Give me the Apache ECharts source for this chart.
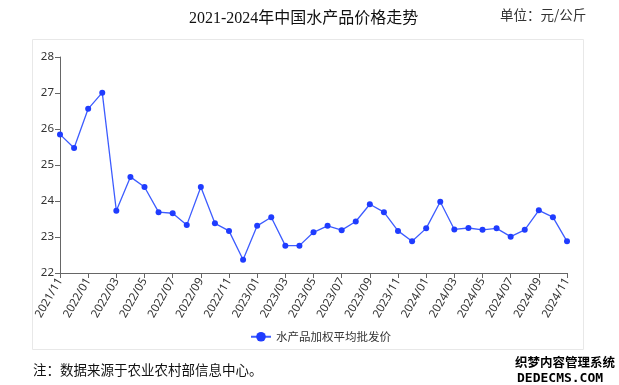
<!DOCTYPE html>
<html>
<head>
<meta charset="utf-8">
<script src="https://cdn.jsdelivr.net/npm/echarts@6/dist/echarts.min.js"></script>
<style>html,body{margin:0;padding:0;background:#fff;}#c{width:619px;height:385px;}</style>
</head>
<body>
<div id="c"></div>
<script>
const categories = ['2021/11','2021/12','2022/01','2022/02','2022/03','2022/04','2022/05','2022/06','2022/07','2022/08','2022/09','2022/10','2022/11','2022/12','2023/01','2023/02','2023/03','2023/04','2023/05','2023/06','2023/07','2023/08','2023/09','2023/10','2023/11','2023/12','2024/01','2024/02','2024/03','2024/04','2024/05','2024/06','2024/07','2024/08','2024/09','2024/10','2024/11'];
const prices = [25.85,25.47,26.56,27.01,23.73,24.67,24.39,23.69,23.66,23.33,24.39,23.38,23.17,22.37,23.31,23.55,22.76,22.76,23.13,23.31,23.19,23.43,23.91,23.69,23.17,22.88,23.24,23.98,23.21,23.25,23.20,23.24,23.01,23.20,23.74,23.55,22.88];
const seriesName = '水产品加权平均批发价';
const titleText = '2021-2024年中国水产品价格走势';
const unitText = '单位：元/公斤';
const noteText = '注：数据来源于农业农村部信息中心。';

const chart = echarts.init(document.getElementById('c'));
chart.setOption({
  animation: false,
  backgroundColor: '#fff',
  graphic: [
    {type:'rect', shape:{x:32.5,y:39.5,width:551,height:310}, style:{fill:'none', stroke:'#e8e8e8', lineWidth:1}, z:-1},
    {type:'text', left:189, top:11, style:{text:titleText, fontSize:16, fontFamily:'Liberation Serif, Noto Sans CJK SC', fill:'#111'}},
    {type:'text', left:500, top:8, style:{text:unitText, fontSize:13.5, fontFamily:'Noto Sans CJK SC', fill:'#333'}},
    {type:'text', left:33, top:363, style:{text:noteText, fontSize:13.5, fontFamily:'Noto Sans CJK SC', fill:'#111'}},
    {type:'text', left:514, top:355, style:{text:'织梦内容管理系统', fontSize:12.5, fontWeight:'bold', fontFamily:'Noto Sans CJK SC', fill:'#000', stroke:'#fff', lineWidth:2}},
    {type:'text', left:516, top:371, style:{text:'DEDECMS.COM', fontSize:13, fontWeight:'bold', fontFamily:'DejaVu Sans Mono', fill:'#000', stroke:'#fff', lineWidth:2}}
  ],
  legend: {
    data: [seriesName],
    left: 245, top: 326,
    itemWidth: 20, itemHeight: 12, itemGap: 4,
    textStyle: {fontSize: 11.5, color: '#333', fontFamily: 'Noto Sans CJK SC'}
  },
  grid: {left: 60, right: 52, top: 57, bottom: 112},
  xAxis: {
    type: 'category',
    data: categories,
    boundaryGap: false,
    axisLine: {lineStyle: {color: '#666'}},
    axisTick: {interval: 1, length: 5, lineStyle:{color:'#666'}},
    axisLabel: {interval: 1, rotate: 60, fontSize: 11.5, color: '#333', fontFamily: 'Noto Sans', margin: 6}
  },
  yAxis: {
    type: 'value',
    min: 22, max: 28, interval: 1,
    axisLine: {show: true, lineStyle: {color: '#666'}},
    axisTick: {show: true, length: 5, lineStyle:{color:'#666'}},
    splitLine: {show: false},
    axisLabel: {fontSize: 11.5, color: '#333', fontFamily: 'Noto Sans', margin: 6}
  },
  series: [{
    name: seriesName,
    type: 'line',
    data: prices,
    symbol: 'circle',
    symbolSize: 6,
    itemStyle: {color: '#1f3cff'},
    lineStyle: {color: '#3d5cff', width: 1.3}
  }]
});
</script>
</body>
</html>
